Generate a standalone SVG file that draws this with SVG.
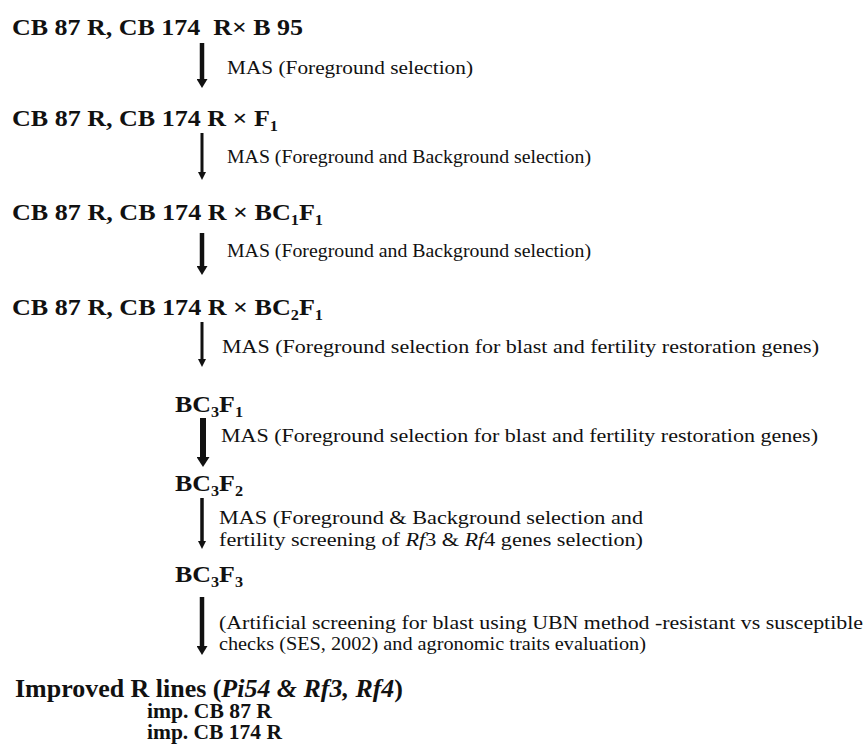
<svg xmlns="http://www.w3.org/2000/svg" width="867" height="744" viewBox="0 0 867 744">
<defs>
<style>
text{font-family:"Liberation Serif","DejaVu Serif","Noto Serif",serif;fill:#111}
.h{font-weight:bold;font-size:24px}
.s{font-size:15px}
.l{font-size:19px}
.big{font-weight:bold;font-size:25px}
.imp{font-weight:bold;font-size:20px}
.ar{stroke:#111;fill:none}
</style>
<marker id="hd" markerUnits="userSpaceOnUse" markerWidth="9" markerHeight="11" refX="0" refY="5.5" orient="auto" viewBox="0 0 9 11"><path d="M0,0 L9,5.5 L0,11 z" fill="#111"/></marker>
<marker id="hds" markerUnits="userSpaceOnUse" markerWidth="8" markerHeight="8" refX="0" refY="4" orient="auto" viewBox="0 0 8 8"><path d="M0,0 L8,4 L0,8 z" fill="#111"/></marker>
<marker id="hdb" markerUnits="userSpaceOnUse" markerWidth="10" markerHeight="13" refX="0" refY="6.5" orient="auto" viewBox="0 0 10 13"><path d="M0,0 L10,6.5 L0,13 z" fill="#111"/></marker>
</defs>
<rect width="867" height="744" fill="#fff"/>
<g id="n1"><text class="h" x="12" y="35" textLength="291" lengthAdjust="spacingAndGlyphs" xml:space="preserve">CB 87 R, CB 174  R× B 95</text></g>
<g id="n2"><text class="h" x="12" y="126" textLength="266" lengthAdjust="spacingAndGlyphs">CB 87 R, CB 174 R × F<tspan class="s" dy="5">1</tspan></text></g>
<g id="n3"><text class="h" x="12" y="220" textLength="311" lengthAdjust="spacingAndGlyphs">CB 87 R, CB 174 R × BC<tspan class="s" dy="5">1</tspan><tspan dy="-5">F</tspan><tspan class="s" dy="5">1</tspan></text></g>
<g id="n4"><text class="h" x="12" y="315" textLength="311" lengthAdjust="spacingAndGlyphs">CB 87 R, CB 174 R × BC<tspan class="s" dy="5">2</tspan><tspan dy="-5">F</tspan><tspan class="s" dy="5">1</tspan></text></g>
<g id="n5"><text class="h" x="175" y="412" textLength="68" lengthAdjust="spacingAndGlyphs">BC<tspan class="s" dy="5">3</tspan><tspan dy="-5">F</tspan><tspan class="s" dy="5">1</tspan></text></g>
<g id="n6"><text class="h" x="175" y="491" textLength="68" lengthAdjust="spacingAndGlyphs">BC<tspan class="s" dy="5">3</tspan><tspan dy="-5">F</tspan><tspan class="s" dy="5">2</tspan></text></g>
<g id="n7"><text class="h" x="175" y="582" textLength="68" lengthAdjust="spacingAndGlyphs">BC<tspan class="s" dy="5">3</tspan><tspan dy="-5">F</tspan><tspan class="s" dy="5">3</tspan></text></g>
<g id="n8">
<text class="big" x="15" y="697" textLength="388" lengthAdjust="spacingAndGlyphs">Improved R lines (<tspan font-style="italic">Pi54 &amp; Rf3, Rf4</tspan>)</text>
<text class="imp" x="147" y="718" textLength="125" lengthAdjust="spacingAndGlyphs">imp. CB 87 R</text>
<text class="imp" x="147" y="739" textLength="135" lengthAdjust="spacingAndGlyphs">imp. CB 174 R</text>
</g>
<g id="connectors">
<g id="e1"><line class="ar" x1="202" y1="43" x2="202" y2="79" stroke-width="4.5" marker-end="url(#hd)"/>
<text class="l" x="227" y="74" textLength="246" lengthAdjust="spacingAndGlyphs">MAS (Foreground selection)</text></g>
<g id="e2"><line class="ar" x1="202" y1="133" x2="202" y2="172" stroke-width="3" marker-end="url(#hds)"/>
<text class="l" x="227" y="163" textLength="364" lengthAdjust="spacingAndGlyphs">MAS (Foreground and Background selection)</text></g>
<g id="e3"><line class="ar" x1="202" y1="233" x2="202" y2="266" stroke-width="4.5" marker-end="url(#hd)"/>
<text class="l" x="227" y="257" textLength="364" lengthAdjust="spacingAndGlyphs">MAS (Foreground and Background selection)</text></g>
<g id="e4"><line class="ar" x1="202" y1="322" x2="202" y2="359" stroke-width="3" marker-end="url(#hds)"/>
<text class="l" x="222" y="353" textLength="597" lengthAdjust="spacingAndGlyphs">MAS (Foreground selection for blast and fertility restoration genes)</text></g>
<g id="e5"><line class="ar" x1="203" y1="418" x2="203" y2="457" stroke-width="6" marker-end="url(#hdb)"/>
<text class="l" x="221" y="442" textLength="597" lengthAdjust="spacingAndGlyphs">MAS (Foreground selection for blast and fertility restoration genes)</text></g>
<g id="e6"><line class="ar" x1="202" y1="498" x2="202" y2="541" stroke-width="3.5" marker-end="url(#hds)"/>
<text class="l" x="219" y="524" textLength="424" lengthAdjust="spacingAndGlyphs">MAS (Foreground &amp; Background selection and</text>
<text class="l" x="219" y="546" textLength="424" lengthAdjust="spacingAndGlyphs">fertility screening of <tspan font-style="italic">Rf</tspan>3 &amp; <tspan font-style="italic">Rf</tspan>4 genes selection)</text></g>
<g id="e7"><line class="ar" x1="202" y1="597" x2="202" y2="646" stroke-width="4.5" marker-end="url(#hd)"/>
<text class="l" x="219" y="629" textLength="644" lengthAdjust="spacingAndGlyphs">(Artificial screening for blast using UBN method -resistant vs susceptible</text>
<text class="l" x="219" y="650" textLength="427" lengthAdjust="spacingAndGlyphs">checks (SES, 2002) and agronomic traits evaluation)</text></g>
</g>
</svg>
